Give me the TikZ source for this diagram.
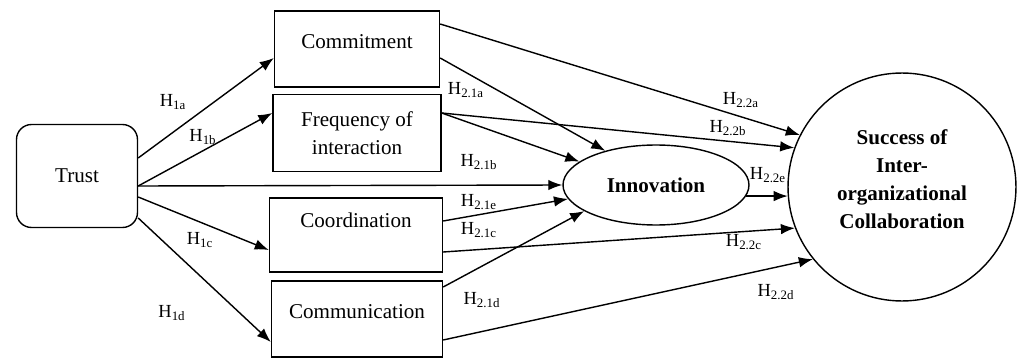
\documentclass[tikz,border=0pt]{standalone}
\usepackage{fontspec}
\setmainfont{Liberation Serif}
\usetikzlibrary{arrows.meta,shapes.geometric,calc}

\begin{document}
\begin{tikzpicture}[
  x=0.02cm, y=-0.02cm,
  font=\fontsize{12}{16}\selectfont,
  >={Latex[length=8pt,width=6pt]},
  every node/.style={align=center},
  box/.style={draw, thick, inner sep=2pt, minimum height=1.52cm},
  lat/.style={draw, thick, inner sep=0pt, font=\fontsize{12}{16}\selectfont\bfseries},
  hyp/.style={inner sep=1pt, font=\fontsize{10.5}{12}\selectfont},
  arr/.style={->, thick}
]
\useasboundingbox (0,0) rectangle (1021,358);

% antecedent
\node[box, rounded corners=0.3cm, minimum width=2.42cm, minimum height=2.06cm] (trust) at (77,176) {Trust};

% mediators
\node[box, minimum width=3.3cm, text depth=8pt] (commit) at (357,49) {Commitment};
\node[box, minimum width=3.36cm, minimum height=1.54cm] (freq) at (357,133) {Frequency of\\interaction};
\node[box, minimum width=3.46cm, minimum height=1.48cm, text depth=17pt] (coord) at (356,235) {Coordination};
\node[box, minimum width=3.42cm, text depth=9pt] (comm) at (357,319) {Communication};

% innovation + outcome
\node[lat, ellipse, minimum width=3.72cm, minimum height=1.6cm] (inno) at (656,185) {Innovation};
\node[lat, circle, minimum size=4.56cm, text depth=9pt] (succ) at (902,187) {Success of\\Inter-\\organizational\\Collaboration};

% H1
\draw[arr] ($(trust.east)+(0,-18)$) -- ($(commit.west)+(0,9)$);
\draw[arr] ($(trust.east)+(0,10)$) -- ($(freq.west)+(0,-20)$);
\draw[arr] ($(trust.east)+(0,10)$) -- (inno.west);
\draw[arr] ($(trust.east)+(0,21)$) -- ($(coord.west)+(0,15)$);
\draw[arr] ($(trust.east)+(0,42)$) -- ($(comm.west)+(0,23)$);

% H2.1
\draw[arr] ($(commit.east)+(0,9)$) -- (inno.146);
\draw[arr] ($(freq.east)+(0,-20)$) -- (inno.163);
\draw[arr] ($(coord.east)+(0,-14)$) -- (inno.189);
\draw[arr] ($(comm.east)+(0,-32)$) -- (inno.200);

% H2.2
\draw[arr] ($(commit.east)+(0,-25)$) -- (succ.153);
\draw[arr] ($(freq.east)+(0,-20)$) -- (succ.160);
\draw[arr] ($(coord.east)+(0,17)$) -- (succ.201);
\draw[arr] ($(comm.east)+(0,21)$) -- (succ.219);
\draw[arr] (inno.-7) -- (inno.-7 -| succ.185);

% labels
\node[hyp] (h1a) at (173,102) {H\textsubscript{1a}};
\node[hyp] (h1b) at (203,137) {H\textsubscript{1b}};
\node[hyp] (h1c) at (200,240) {H\textsubscript{1c}};
\node[hyp] (h1d) at (172,313) {H\textsubscript{1d}};
\node[hyp] (h21a) at (466,90) {H\textsubscript{2.1a}};
\node[hyp] (h21b) at (479,162) {H\textsubscript{2.1b}};
\node[hyp] (h21e) at (479,202) {H\textsubscript{2.1e}};
\node[hyp] (h21c) at (479,230) {H\textsubscript{2.1c}};
\node[hyp] (h21d) at (482,300) {H\textsubscript{2.1d}};
\node[hyp] (h22a) at (741,100) {H\textsubscript{2.2a}};
\node[hyp] (h22b) at (728,128) {H\textsubscript{2.2b}};
\node[hyp] (h22e) at (768,175) {H\textsubscript{2.2e}};
\node[hyp] (h22c) at (744,242) {H\textsubscript{2.2c}};
\node[hyp] (h22d) at (776,292) {H\textsubscript{2.2d}};
\end{tikzpicture}
\end{document}
